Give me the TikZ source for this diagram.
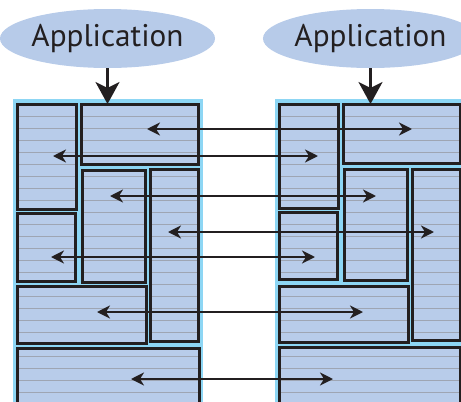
\documentclass[tikz,border=0pt]{standalone}
\usepackage{fontspec}
\setmainfont{PT Sans}
\usetikzlibrary{arrows.meta,shapes.geometric}
\definecolor{panelc}{HTML}{8DD6F4}
\definecolor{boxc}{HTML}{B8CCEA}
\definecolor{stripec}{HTML}{9EA5B3}
\definecolor{inkc}{HTML}{231F20}
\definecolor{ellc}{HTML}{B7CBE9}
\tikzset{
  panel/.style={fill=panelc},
  boxfill/.style={fill=boxc},
  stripe/.style={draw=stripec, line width=1pt},
  boxline/.style={draw=inkc, line width=3pt, inner sep=0pt, outer sep=0pt},
  appl/.style={ellipse, fill=ellc, inner sep=0pt, minimum width=205pt, minimum height=59pt, text=inkc},
  bigarrow/.style={draw=inkc, line width=2.6pt, -{Stealth[length=22pt,width=24pt,inset=6pt]}},
  dblarrow/.style={draw=inkc, line width=2.2pt, {Stealth[length=13pt,width=13pt,inset=4pt]}-{Stealth[length=13pt,width=13pt,inset=4pt]}},
}
\newcommand\membox[5]{%
  \begin{scope}
    \clip (#2,#3) rectangle (#4,#5);
    \fill[boxfill] (#2,#3) rectangle (#4,#5);
    \foreach \yy in {104.7,116.7,...,416.7} \draw[stripe] (#2,\yy) -- (#4,\yy);
  \end{scope}
  \node[boxline, anchor=north west, minimum width={(#4)-(#2)}, minimum height={(#5)-(#3)}] (#1) at (#2,#3) {};%
}
\begin{document}
\begin{tikzpicture}[x=1pt,y=-1pt]
\useasboundingbox (0,0) rectangle (461,402);
\clip (0,0) rectangle (461,402);
% application ellipses
\node[appl] (app1) at (107.5,38.5) {\resizebox{152pt}{!}{Application}};
\node[appl] (app2) at (370.5,38.5) {\resizebox{152pt}{!}{Application}};
% panels
\fill[panel] (13,99) rectangle (203,420);
\fill[panel] (275,99) rectangle (480,420);
% left stack
\membox{A1}{17}{104}{76}{209}
\membox{B1}{81}{104}{198}{164}
\membox{C1}{82}{170}{145}{282}
\membox{D1}{150}{169}{198}{341}
\membox{E1}{17}{213}{75}{281}
\membox{F1}{17}{286}{146}{343}
\membox{G1}{17}{348}{199}{420}
% right stack
\membox{A2}{279}{104}{338}{208}
\membox{B2}{343}{104}{460}{163}
\membox{C2}{344}{169}{407}{280}
\membox{D2}{412}{169}{460}{340}
\membox{E2}{279}{212}{337}{279}
\membox{F2}{279}{286}{408}{342}
\membox{G2}{279}{347}{460}{420}
% down arrows
\draw[bigarrow] (app1.south) -- (app1.south |- B1.north);
\draw[bigarrow] (app2.south) -- (app2.south |- B2.north);
% arrow ends
\coordinate (l1) at (147,129); \coordinate (r1) at (412,129);
\coordinate (l2) at (53,156);  \coordinate (r2) at (318,156);
\coordinate (l3) at (110,196); \coordinate (r3) at (376,196);
\coordinate (l4) at (168,232); \coordinate (r4) at (434,232);
\coordinate (l5) at (51,257);  \coordinate (r5) at (315,257);
\coordinate (l6) at (97,312);  \coordinate (r6) at (363,312);
\coordinate (l7) at (131,379); \coordinate (r7) at (333,379);
\foreach \i in {1,...,7} \draw[dblarrow] (l\i) -- (r\i);
\end{tikzpicture}
\end{document}
